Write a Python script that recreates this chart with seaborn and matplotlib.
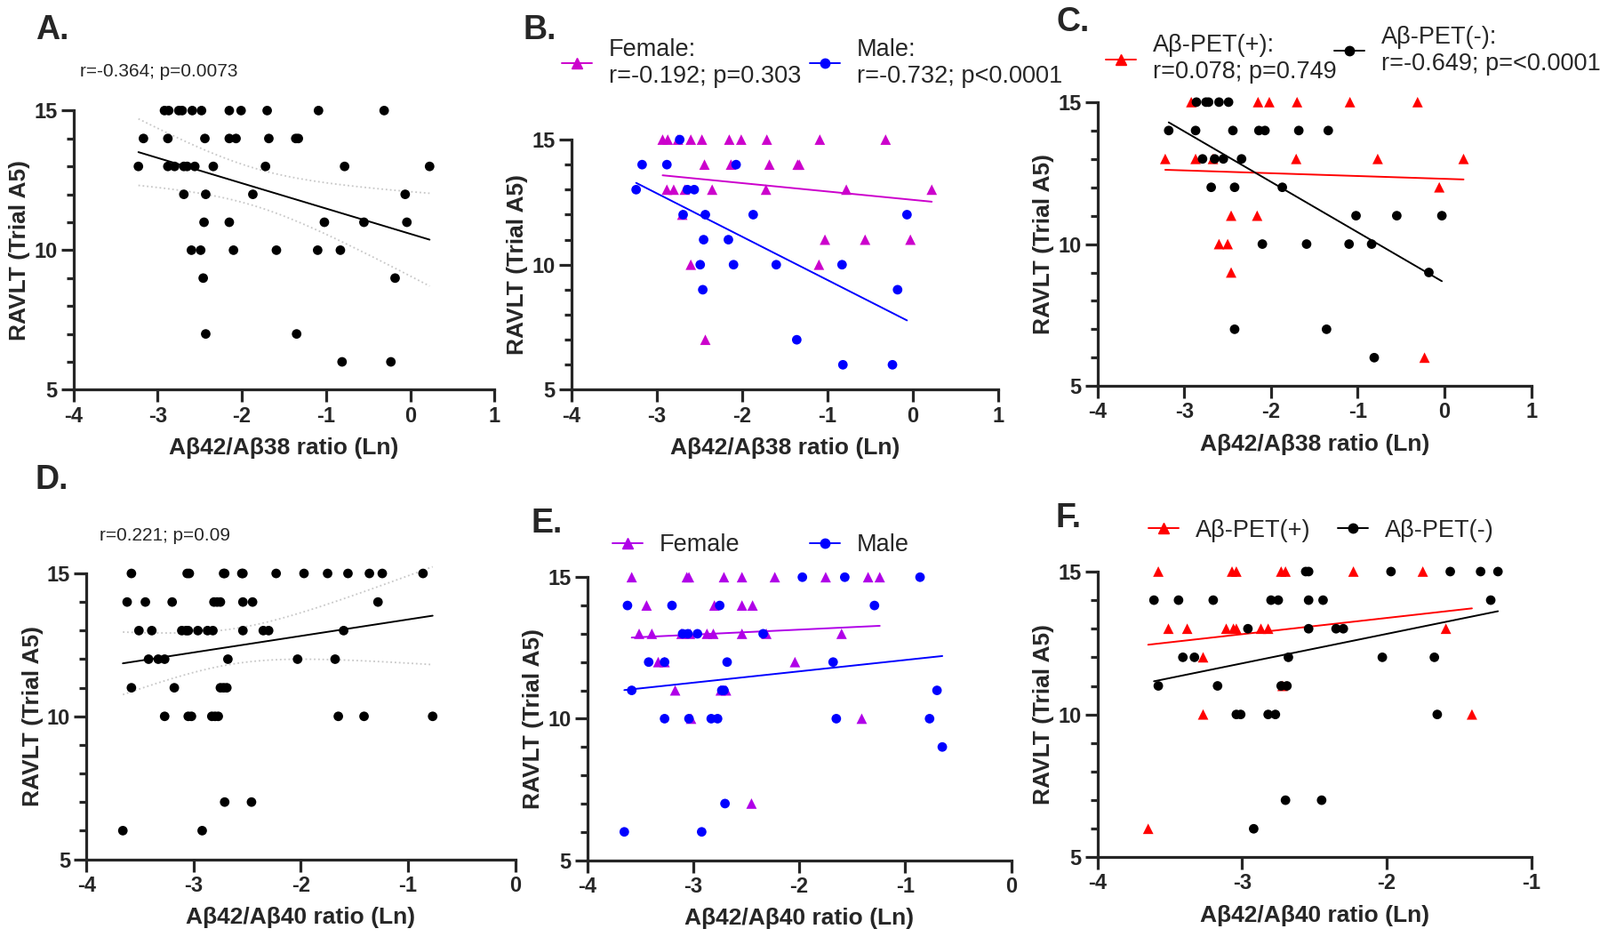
import numpy as np
import matplotlib
matplotlib.use('Agg')
import matplotlib.pyplot as plt
import seaborn as sns
from matplotlib.lines import Line2D

# ---- data ----
# A: all subjects, Ab42/Ab38
a_x = [-2.92, -2.87, -2.75, -2.71, -2.59, -2.48, -2.15, -2.01, -1.70, -1.09, -0.31,
       -3.17, -2.88, -2.44, -2.15, -2.07, -1.68, -1.36, -1.33,
       -3.23, -2.88, -2.80, -2.69, -2.65, -2.56, -2.34, -1.72, -0.78, 0.23,
       -2.69, -2.43, -1.87, -0.06,
       -2.45, -2.15, -1.02, -0.55, -0.04,
       -2.60, -2.49, -2.10, -1.59, -1.10, -0.83,
       -2.46, -0.18,
       -2.43, -1.35,
       -0.81, -0.23]
a_y = [15, 15, 15, 15, 15, 15, 15, 15, 15, 15, 15,
       14, 14, 14, 14, 14, 14, 14, 14,
       13, 13, 13, 13, 13, 13, 13, 13, 13, 13,
       12, 12, 12, 12,
       11, 11, 11, 11, 11,
       10, 10, 10, 10, 10, 10,
       9, 9,
       7, 7,
       6, 6]

# B: by sex, Ab42/Ab38
b_female_x = [-2.93, -2.87, -2.75, -2.60, -2.47, -2.15, -2.01, -1.71, -1.09, -0.32,
              -2.44, -2.13, -1.68, -1.35, -1.33,
              -2.88, -2.80, -2.67, -2.35, -1.72, -0.78, 0.22,
              -2.70,
              -1.03, -0.56, -0.03,
              -2.60, -1.10,
              -2.43]
b_female_y = [15, 15, 15, 15, 15, 15, 15, 15, 15, 15,
              14, 14, 14, 14, 14,
              13, 13, 13, 13, 13, 13, 13,
              12,
              11, 11, 11,
              10, 10,
              7]
b_male_x = [-2.73,
            -3.17, -2.88, -2.07,
            -3.24, -2.64, -2.56,
            -2.69, -2.43, -1.87, -0.07,
            -2.45, -2.16,
            -2.49, -2.10, -1.60, -0.83,
            -2.46, -0.18,
            -1.36,
            -0.82, -0.24]
b_male_y = [15,
            14, 14, 14,
            13, 13, 13,
            12, 12, 12, 12,
            11, 11,
            10, 10, 10, 10,
            9, 9,
            7,
            6, 6]

# C: by amyloid PET, Ab42/Ab38
c_pos_x = [-2.92, -2.15, -2.02, -1.70, -1.09, -0.31,
           -3.22, -2.87, -2.67, -1.71, -0.77, 0.22,
           -0.06,
           -2.46, -2.16,
           -2.60, -2.50,
           -2.46,
           -0.23]
c_pos_y = [15, 15, 15, 15, 15, 15,
           13, 13, 13, 13, 13, 13,
           12,
           11, 11,
           10, 10,
           9,
           6]
c_neg_x = [-2.86, -2.75, -2.72, -2.60, -2.49,
           -3.18, -2.87, -2.44, -2.14, -2.07, -1.68, -1.34,
           -2.79, -2.65, -2.55, -2.34,
           -2.69, -2.42, -1.87,
           -1.02, -0.55, -0.03,
           -2.10, -1.59, -1.10, -0.84,
           -0.18,
           -2.42, -1.36,
           -0.81]
c_neg_y = [15, 15, 15, 15, 15,
           14, 14, 14, 14, 14, 14, 14,
           13, 13, 13, 13,
           12, 12, 12,
           11, 11, 11,
           10, 10, 10, 10,
           9,
           7, 7,
           6]

# D: all subjects, Ab42/Ab40
d_x = [-3.58, -3.06, -3.04, -2.72, -2.71, -2.55, -2.54, -2.23, -1.97, -1.75, -1.56, -1.36, -1.24, -0.86,
       -3.62, -3.45, -3.20, -2.81, -2.78, -2.75, -2.54, -2.45, -1.28,
       -3.51, -3.39, -3.11, -3.07, -3.05, -2.96, -2.87, -2.82, -2.54, -2.35, -2.30, -1.60,
       -3.42, -3.33, -3.27, -2.68, -2.03, -1.68,
       -3.58, -3.18, -2.75, -2.72, -2.69,
       -3.27, -3.05, -3.02, -2.83, -2.80, -2.77, -1.65, -1.41, -0.77,
       -2.71, -2.46,
       -3.66, -2.92]
d_y = [15, 15, 15, 15, 15, 15, 15, 15, 15, 15, 15, 15, 15, 15,
       14, 14, 14, 14, 14, 14, 14, 14, 14,
       13, 13, 13, 13, 13, 13, 13, 13, 13, 13, 13, 13,
       12, 12, 12, 12, 12, 12,
       11, 11, 11, 11, 11,
       10, 10, 10, 10, 10, 10, 10, 10, 10,
       7, 7,
       6, 6]

# E: by sex, Ab42/Ab40
e_female_x = [-3.58, -3.06, -3.04, -2.71, -2.54, -2.23, -1.75, -1.35, -1.24,
              -3.44, -2.80, -2.54, -2.44,
              -3.51, -3.39, -3.11, -3.03, -2.87, -2.81, -2.54, -2.31, -1.60,
              -3.33, -3.27, -2.04,
              -3.17, -2.74, -2.69,
              -3.02, -1.41,
              -2.45]
e_female_y = [15, 15, 15, 15, 15, 15, 15, 15, 15,
              14, 14, 14, 14,
              13, 13, 13, 13, 13, 13, 13, 13, 13,
              12, 12, 12,
              11, 11, 11,
              10, 10,
              7]
e_male_x = [-1.97, -1.57, -0.86,
            -3.62, -3.20, -2.75, -1.29,
            -3.10, -3.05, -2.96, -2.34,
            -3.42, -3.27, -2.68, -1.68,
            -3.58, -2.73, -2.71, -0.70,
            -3.27, -3.04, -2.83, -2.77, -1.65, -0.77,
            -0.65,
            -2.70,
            -3.65, -2.92]
e_male_y = [15, 15, 15,
            14, 14, 14, 14,
            13, 13, 13, 13,
            12, 12, 12, 12,
            11, 11, 11, 11,
            10, 10, 10, 10, 10, 10,
            9,
            7,
            6, 6]

# F: by amyloid PET, Ab42/Ab40
f_pos_x = [-3.58, -3.07, -3.04, -2.73, -2.70, -2.23, -1.75,
           -3.51, -3.38, -3.11, -3.06, -3.04, -2.87, -2.82, -1.59,
           -3.27,
           -2.72,
           -3.27, -1.41,
           -3.65]
f_pos_y = [15, 15, 15, 15, 15, 15, 15,
           13, 13, 13, 13, 13, 13, 13, 13,
           12,
           11,
           10, 10,
           6]
f_neg_x = [-2.56, -2.54, -1.97, -1.56, -1.35, -1.23,
           -3.61, -3.44, -3.20, -2.80, -2.75, -2.54, -2.44, -1.28,
           -2.96, -2.54, -2.35, -2.30,
           -3.41, -3.33, -2.68, -2.03, -1.67,
           -3.58, -3.17, -2.73, -2.69,
           -3.04, -3.01, -2.82, -2.77, -1.65,
           -2.70, -2.45,
           -2.92]
f_neg_y = [15, 15, 15, 15, 15, 15,
           14, 14, 14, 14, 14, 14, 14, 14,
           13, 13, 13, 13,
           12, 12, 12, 12, 12,
           11, 11, 11, 11,
           10, 10, 10, 10, 10,
           7, 7,
           6]

MAGENTA = '#CC00CC'
PURPLE = '#B000E8'
BLUE = '#0000FF'
RED = '#FF0000'
BLACK = '#000000'

sns.set_style('ticks')
plt.rcParams['font.family'] = ['Liberation Sans', 'DejaVu Sans']
plt.rcParams['axes.unicode_minus'] = False

fig = plt.figure(figsize=(18, 10.54), dpi=100)


def draw_group(ax, x, y, color, marker):
    s = 60 if marker == 'o' else 72
    sns.scatterplot(x=x, y=y, ax=ax, color=color, marker=marker, s=s,
                    edgecolor='none', clip_on=False, zorder=3, legend=False)
    sns.regplot(x=np.array(x), y=np.array(y), ax=ax, scatter=False, ci=None,
                truncate=True, color=color, line_kws={'lw': 1.4})


def ci_lines(ax, x, y):
    # 95% confidence band of the fitted line, drawn dotted like the original
    x = np.asarray(x, dtype=float)
    y = np.asarray(y, dtype=float)
    n = len(x)
    slope, icpt = np.polyfit(x, y, 1)
    xs = np.linspace(x.min(), x.max(), 100)
    fit = icpt + slope * xs
    s = np.sqrt(np.sum((y - (icpt + slope * x)) ** 2) / (n - 2))
    se = s * np.sqrt(1 / n + (xs - x.mean()) ** 2 / np.sum((x - x.mean()) ** 2))
    for band in (fit + 2.01 * se, fit - 2.01 * se):
        ax.plot(xs, band, ls=':', color='#c8c8c8', lw=1.3, clip_on=False)


def style_axis(ax, xmax, xlabel):
    ax.set_xlim(-4, xmax)
    ax.set_ylim(5, 15)
    ax.set_xticks(range(-4, xmax + 1))
    ax.set_yticks([5, 10, 15])
    ax.set_yticks(range(5, 16), minor=True)
    sns.despine(ax=ax)
    for side in ['left', 'bottom']:
        ax.spines[side].set_linewidth(2.3)
    ax.tick_params(which='major', length=10, width=2.3, labelsize=17, pad=3)
    ax.tick_params(which='minor', length=5.5, width=2.3)
    ax.tick_params(axis='x', which='minor', length=0)
    for lab in ax.get_xticklabels() + ax.get_yticklabels():
        lab.set_fontweight('bold')
    ax.set_xlabel(xlabel, fontsize=19, fontweight='bold', labelpad=9)
    ax.set_ylabel('RAVLT (Trial A5)', fontsize=19, fontweight='bold', labelpad=3)


def add_key(label, color, marker, x, y):
    ms = 7.5 if marker == 'o' else 8.5
    h = Line2D([0], [0], color=color, marker=marker, markersize=ms, lw=1.4)
    fig.legend([h], [label], loc='center left', bbox_to_anchor=(x, y),
               bbox_transform=fig.transFigure, frameon=False, fontsize=19.5,
               handlelength=1.25, handletextpad=0.7, borderpad=0, borderaxespad=0,
               labelspacing=0.1)


xlab38 = 'Aβ42/Aβ38 ratio (Ln)'
xlab40 = 'Aβ42/Aβ40 ratio (Ln)'

# ---- A ----
ax_a = fig.add_axes([0.046, 0.584, 0.263, 0.298])
ci_lines(ax_a, a_x, a_y)
draw_group(ax_a, a_x, a_y, BLACK, 'o')
style_axis(ax_a, 1, xlab38)
fig.text(0.050, 0.924, 'r=-0.364; p=0.0073', fontsize=15, va='center')

# ---- B ----
ax_b = fig.add_axes([0.357, 0.584, 0.267, 0.267])
draw_group(ax_b, b_female_x, b_female_y, MAGENTA, '^')
draw_group(ax_b, b_male_x, b_male_y, BLUE, 'o')
style_axis(ax_b, 1, xlab38)
add_key('Female:\nr=-0.192; p=0.303', MAGENTA, '^', 0.351, 0.933)
add_key('Male:\nr=-0.732; p<0.0001', BLUE, 'o', 0.506, 0.933)

# ---- C ----
ax_c = fig.add_axes([0.686, 0.588, 0.271, 0.303])
draw_group(ax_c, c_pos_x, c_pos_y, RED, '^')
draw_group(ax_c, c_neg_x, c_neg_y, BLACK, 'o')
style_axis(ax_c, 1, xlab38)
add_key('Aβ-PET(+):\nr=0.078; p=0.749', RED, '^', 0.691, 0.937)
add_key('Aβ-PET(-):\nr=-0.649; p=<0.0001', BLACK, 'o', 0.834, 0.946)

# ---- D ----
ax_d = fig.add_axes([0.054, 0.083, 0.268, 0.305])
ci_lines(ax_d, d_x, d_y)
draw_group(ax_d, d_x, d_y, BLACK, 'o')
style_axis(ax_d, 0, xlab40)
fig.text(0.0625, 0.428, 'r=0.221; p=0.09', fontsize=15, va='center')

# ---- E ----
ax_e = fig.add_axes([0.367, 0.082, 0.265, 0.302])
draw_group(ax_e, e_female_x, e_female_y, PURPLE, '^')
draw_group(ax_e, e_male_x, e_male_y, BLUE, 'o')
style_axis(ax_e, 0, xlab40)
add_key('Female', PURPLE, '^', 0.383, 0.418)
add_key('Male', BLUE, 'o', 0.506, 0.418)

# ---- F ----
ax_f = fig.add_axes([0.686, 0.085, 0.271, 0.305])
draw_group(ax_f, f_pos_x, f_pos_y, RED, '^')
draw_group(ax_f, f_neg_x, f_neg_y, BLACK, 'o')
style_axis(ax_f, -1, xlab40)
add_key('Aβ-PET(+)', RED, '^', 0.718, 0.434)
add_key('Aβ-PET(-)', BLACK, 'o', 0.836, 0.434)

# panel letters
for letter, px, py in [('A.', 0.022, 0.968), ('B.', 0.327, 0.968), ('C.', 0.660, 0.976),
                       ('D.', 0.022, 0.488), ('E.', 0.332, 0.441), ('F.', 0.660, 0.447)]:
    fig.text(px, py, letter, fontsize=27, fontweight='bold', ha='left', va='center')

fig.savefig('out.png', dpi=100)
